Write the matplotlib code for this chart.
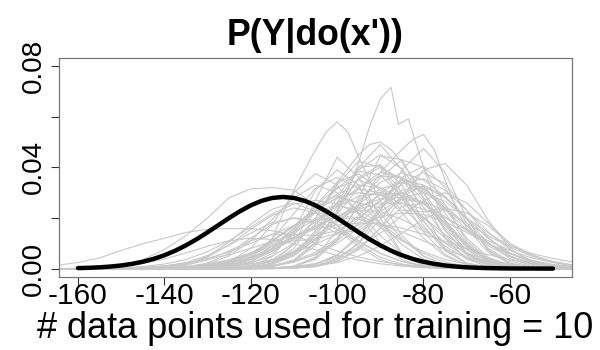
import numpy as np
import matplotlib
matplotlib.use("Agg")
import matplotlib.pyplot as plt

plt.rcParams['font.family'] = ['Liberation Sans', 'DejaVu Sans']

# x grid shared by the bootstrap density curves
grid_x = [-165, -160, -155, -150, -145, -140, -135, -130, -125, -120, -115, -110, -105,
          -100, -95, -90, -85, -80, -75, -70, -65, -60, -55, -50, -45]

# estimated densities (x 1000)
grey_curves = [
    [0, 0, 0, 0, 0, 0, 0, 0, 0.1, 0.4, 1.8, 5.4, 13, 24.3, 35.3, 40, 35.3, 24.3, 13, 5.4, 1.8, 0.4, 0.1, 0, 0],
    [0, 0, 0, 0, 0, 0, 0, 0, 0, 0, 0.2, 0.9, 3.7, 11, 26, 36, 43, 40, 25, 11, 3.7, 0.9, 0.2, 0, 0],
    [0, 0, 0, 0, 0, 0, 0.1, 0.5, 1.5, 4, 8.8, 16, 24.7, 32, 35, 32, 24.7, 16, 8.8, 4, 1.5, 0.5, 0.1, 0, 0],
    [0, 0, 0, 0, 0, 0, 0, 0.3, 1.2, 3.5, 8, 15, 23, 28, 26, 24, 30, 32, 24, 12, 4.5, 1.2, 0.3, 0, 0],
    [0, 0, 0.1, 0.3, 0.8, 1.8, 3.6, 6.7, 11, 16.4, 21.6, 25.5, 27, 25.5, 21.6, 16.4, 11, 6.7, 3.6, 1.8, 0.8, 0.3, 0.1, 0, 0],
    [0, 0, 0, 0, 0, 0, 0, 0, 0, 0, 0.1, 0.4, 1.7, 5.1, 12.4, 23, 33.5, 38, 33.5, 23, 12.4, 5.1, 1.7, 0.4, 0.1],
    [0, 0, 0, 0, 0, 0.1, 0.4, 1.2, 3, 6, 11, 17, 23, 28, 30, 29, 26, 20, 12, 6, 2.5, 0.9, 0.3, 0.1, 0],
    [0, 0, 0, 0, 0, 0, 0, 0, 0, 0, 0.2, 1, 4.6, 15, 28, 44.5, 43, 28, 12, 3.7, 0.8, 0.1, 0, 0, 0],
    [0, 0, 0, 0.1, 0.4, 1, 2.2, 4, 6.6, 10, 13.5, 17, 19.3, 20, 19.5, 17.5, 14.5, 11, 7.5, 4.6, 2.5, 1.2, 0.5, 0.2, 0.1],
    [0, 0, 0, 0, 0, 0, 0, 0, 0.1, 0.3, 0.9, 2.5, 5.8, 11, 18, 25, 31, 32.5, 28, 20, 12, 6, 2.5, 0.9, 0.3],
    [0, 0, 0, 0, 0, 0, 0, 0, 0.1, 0.5, 2, 6, 15, 28, 40, 41, 30, 17, 7, 2.2, 0.5, 0.1, 0, 0, 0],
    [0, 0, 0, 0, 0.1, 0.6, 1.7, 4.5, 9.4, 15.5, 21, 24, 22, 17, 11, 6, 2.8, 1, 0.3, 0.1, 0, 0, 0, 0, 0],
    [0, 0, 0, 0, 0, 0, 0, 0, 0, 0.1, 0.3, 0.8, 2, 4.5, 8.5, 14, 21, 27, 30, 26, 18, 10, 5.5, 2.8, 1.3],
    [0, 0, 0, 0, 0, 0, 0.2, 0.8, 2.5, 6, 11, 17, 22, 21, 20, 27, 35, 33, 22, 10, 3.5, 1, 0.2, 0, 0],
    [0, 0, 0, 0, 0, 0, 0, 0, 0, 0.2, 0.8, 3, 9, 23, 40, 49, 39, 22, 8, 2.2, 0.4, 0.1, 0, 0, 0],
    [0, 0, 0, 0, 0.1, 0.3, 0.7, 1.6, 3.2, 5.6, 8.8, 12.5, 16.5, 20.5, 23.5, 25.8, 25.8, 23.5, 20, 15.5, 11, 7.2, 4.3, 2.4, 1.2],
    [0, 0, 0, 0, 0, 0, 0.1, 0.4, 1.6, 4.9, 11.7, 21.8, 31.8, 36, 31.8, 21.8, 11.7, 4.9, 1.6, 0.4, 0.1, 0, 0, 0, 0],
    [0, 0, 0, 0, 0, 0, 0, 0, 0, 0, 0.1, 0.5, 1.8, 5.5, 13, 24, 36, 40.5, 32, 18, 7.5, 2.3, 0.5, 0.1, 0],
    [0, 0.1, 0.4, 1.3, 3.5, 7.5, 13, 20, 28, 31.5, 32, 31, 25, 17, 9.5, 4.5, 1.8, 0.6, 0.2, 0, 0, 0, 0, 0, 0],
    [1.3, 2.4, 4.2, 7.2, 9.8, 12, 14.3, 15.5, 15.8, 15.8, 15, 13, 10, 7, 4.5, 2.8, 1.6, 0.8, 0.4, 0.2, 0.1, 0, 0, 0, 0],
    [0, 0, 0, 0, 0, 0, 0, 0, 0.2, 0.5, 1.2, 2.8, 5.5, 10, 16, 22.5, 28, 30, 26.5, 20, 14, 9, 6, 4, 2.5],
    [0, 0, 0, 0, 0, 0, 0, 0.1, 0.4, 1.1, 2.8, 6, 11.3, 18.2, 25.6, 31.5, 34, 31.5, 25, 17, 10, 5, 2.2, 0.9, 0.3],
    [0, 0, 0, 0, 0, 0, 0, 0.1, 0.6, 2.6, 7.8, 16, 24.5, 28.8, 26, 18, 9.5, 3.8, 1.1, 0.3, 0, 0, 0, 0, 0],
    [0, 0, 0, 0, 0, 0.1, 0.3, 0.9, 2.2, 4.5, 8, 12.3, 16.8, 20.8, 23, 22.5, 19.5, 15, 10.3, 6.3, 3.4, 1.6, 0.7, 0.2, 0.1],
    [0, 0, 0, 0, 0, 0, 0, 0.1, 0.4, 1.2, 3, 6.5, 12, 19.5, 27, 34, 37.8, 35, 28.5, 20, 12, 6.2, 2.7, 1, 0.3],
    [0, 0, 0, 0, 0, 0.1, 0.5, 1.8, 5, 11, 19.5, 28, 33, 30, 22, 13, 6, 2.2, 0.7, 0.2, 0, 0, 0, 0, 0],
    [0, 0, 0, 0, 0.1, 0.4, 1.3, 3.5, 7, 11, 13.5, 13.5, 13, 15, 20, 27, 30, 26, 17, 8.5, 3.2, 1, 0.3, 0.1, 0],
    [0, 0, 0, 0, 0, 0, 0, 0, 0.1, 0.5, 2, 6, 14, 26, 39, 45, 39.5, 28, 15, 6, 2, 0.5, 0.1, 0, 0],
    [0, 0, 0, 0, 0, 0, 0, 0, 0, 0, 0.1, 0.4, 1, 2.4, 5, 9, 14, 19.5, 23.8, 22, 17, 9.5, 5, 2.5, 1],
    [0, 0, 0.1, 0.2, 0.5, 1.1, 2.1, 3.6, 5.5, 8, 10.7, 13.3, 15.6, 17.2, 18, 17.6, 16, 13.6, 10.8, 8, 5.5, 3.5, 2, 1.1, 0.5],
    [0, 0, 0, 0, 0, 0, 0, 0, 0.1, 1, 4.8, 15, 31, 39, 33, 17, 6, 1.5, 0.2, 0, 0, 0, 0, 0, 0],
    [0, 0, 0, 0, 0, 0, 0, 0, 0, 0, 0, 0.2, 0.8, 3, 8, 16, 24.5, 26, 19, 9.5, 3.2, 0.8, 0.1, 0, 0],
    [0, 0, 0, 0, 0, 0, 0, 0.1, 0.5, 2, 6, 14, 25, 34, 37.5, 31, 23, 22.5, 24, 17, 8, 3, 0.9, 0.2, 0],
    [0, 0, 0, 0.1, 0.3, 0.9, 2.4, 5.2, 9.2, 14, 18.2, 20, 19, 15.5, 10.5, 6, 2.8, 1.1, 0.4, 0.1, 0, 0, 0, 0, 0],
    [0, 0, 0, 0, 0, 0, 0.1, 0.3, 0.9, 2.3, 5, 10, 17.5, 26, 31.5, 30, 22, 12, 5, 1.6, 0.4, 0.1, 0, 0, 0],
    [0, 0, 0, 0, 0, 0, 0, 0, 0, 0, 0, 0.2, 0.9, 3.5, 10, 23, 39, 47.5, 38, 20, 7, 1.8, 0.3, 0, 0],
    [0, 0, 0, 0, 0, 0, 0, 0, 0, 0.2, 2.3, 9.6, 27, 44, 36, 20, 6, 1, 0.1, 0, 0, 0, 0, 0, 0],
    [0, 0, 0, 0, 0.1, 0.2, 0.5, 1.1, 2.3, 4.4, 7.5, 11.5, 16, 20.8, 24.6, 27.5, 28, 26.5, 23, 18, 13, 8.5, 5, 2.7, 1.3],
    [0, 0, 0, 0, 0, 0, 0.1, 0.3, 1, 2.9, 6.9, 13.5, 22.3, 31.6, 38.5, 37, 28.5, 18.5, 10, 4.5, 1.6, 0.5, 0.1, 0, 0],
    [0, 0, 0, 0, 0, 0, 0.1, 0.5, 2, 5.5, 9.5, 11, 11.5, 14, 21, 30, 35, 30, 19, 9, 3.2, 0.9, 0.2, 0, 0],
    [0, 0.1, 0.3, 0.9, 2, 3.8, 6.2, 8.8, 11, 12, 11.5, 9.8, 7.5, 5.2, 3.3, 1.9, 1, 0.5, 0.2, 0.1, 0, 0, 0, 0, 0],
    [0, 0, 0, 0, 0, 0, 0, 0, 0, 0, 0, 0.2, 0.8, 2.8, 7.5, 16, 28, 39, 41.5, 33, 19, 8, 2.5, 0.6, 0.1],
    [0, 0, 0, 0, 0, 0, 0.1, 0.6, 2.6, 8, 17.5, 30, 37.5, 33, 21.5, 10, 3.5, 0.9, 0.2, 0, 0, 0, 0, 0, 0],
    [0, 0, 0, 0, 0, 0, 0.2, 0.6, 1.6, 3.6, 7, 12, 18.5, 25.5, 32, 36.5, 36, 31, 23.5, 15.5, 9, 4.6, 2, 0.8, 0.3],
    [0, 0, 0, 0, 0, 0, 0, 0, 0.2, 1, 3.4, 9.5, 20, 33, 42.5, 40, 28, 14.5, 5.5, 1.5, 0.3, 0, 0, 0, 0],
    [0, 0, 0, 0, 0, 0, 0, 0.1, 0.3, 1, 3, 7, 13, 19, 24, 29, 30, 26, 18, 9.5, 4, 1.3, 0.4, 0.1, 0],
    [0, 0, 0, 0, 0, 0, 0, 0, 0.1, 0.4, 1.2, 3, 6.5, 12, 19.5, 27, 33.5, 35.5, 31, 23, 14.5, 7.5, 3.2, 1.2, 0.4],
    [0, 0, 0, 0, 0, 0.1, 0.3, 1, 2.7, 6, 11, 17, 22.5, 25, 23, 18, 11.5, 6, 2.6, 0.9, 0.3, 0.1, 0, 0, 0],
    [0, 0, 0, 0, 0, 0, 0, 0, 0, 0.2, 0.9, 3.5, 10.5, 22.5, 36, 41, 33, 19, 7.5, 2, 0.4, 0, 0, 0, 0],
    [0, 0, 0, 0, 0, 0, 0.1, 0.3, 0.8, 1.8, 3.6, 6.2, 9.7, 13.5, 17.3, 20.4, 22, 21.4, 18.5, 14.3, 9.8, 5.9, 3.1, 1.4, 0.6],
    [0, 0, 0, 0, 0, 0.1, 0.6, 2.2, 6, 12, 17.5, 20, 18, 14, 15, 21, 27.5, 26, 18, 9, 3.5, 1, 0.2, 0, 0],
    [0, 0, 0, 0, 0, 0, 0, 0, 0, 0, 0, 0.3, 1.2, 4, 10, 19.5, 28.5, 33, 28.5, 19.5, 10, 4, 1.2, 0.3, 0.1],
    [0, 0, 0, 0, 0.1, 0.3, 0.8, 1.8, 3.5, 6.2, 10, 14.5, 19.5, 24.5, 28.5, 30, 29, 25.5, 20.5, 15, 10, 6, 3.3, 1.7, 0.8],
    [0, 0, 0, 0, 0.1, 0.4, 1.6, 4.8, 10.5, 17.5, 23.5, 26, 22.5, 15.5, 8.5, 3.5, 1.1, 0.3, 0.1, 0, 0, 0, 0, 0, 0],
    [0, 0, 0, 0, 0, 0, 0, 0, 0.1, 0.5, 1.7, 5, 11.5, 21.5, 32, 38, 36, 27, 16, 7.5, 2.8, 0.8, 0.2, 0, 0],
    [0, 0, 0, 0, 0, 0.1, 0.4, 1.1, 2.8, 5.9, 10.6, 16.8, 23.6, 29.5, 33, 32, 27.3, 20.4, 13.4, 7.7, 3.9, 1.7, 0.6, 0.2, 0.1],
]

# the few tall curves, read at finer spacing (x, density x 1000)
tall_x = [
    [-120, -115, -110, -105, -100, -97.5, -95, -92.5, -90, -87.5, -85.8, -83.5, -82, -80, -77.5, -75, -70, -65, -60, -55],
    [-125, -120, -115, -112.5, -110, -107.5, -105, -102.5, -100, -97.5, -95, -92.5, -90, -85, -80, -75, -70],
    [-110, -105, -100, -95, -90, -85, -82.5, -80, -77.5, -75, -72.5, -70, -65, -60, -55],
    [-120, -115, -110, -105, -100, -95, -92.5, -90, -87.5, -85, -80, -75, -70, -65, -60],
]
tall_y = [
    [0.3, 1, 3, 10, 22, 31, 42, 56, 67, 71.6, 57, 59.2, 51, 40, 28, 18, 6, 1.5, 0.3, 0],
    [1, 4, 12, 22, 31, 39, 47, 54, 58, 54, 44, 35, 27, 13, 5, 1.5, 0.3],
    [1, 4, 12, 25, 38, 47, 51, 53, 47, 35, 24, 16, 6.5, 2, 0.5],
    [0.5, 2, 8, 20, 34, 45, 49, 50, 47, 42, 30, 15, 6, 1.5, 0.3],
]

# true interventional density (black curve), x 1000
true_x = [-160, -157.5, -155, -152.5, -150, -147.5, -145, -142.5, -140, -137.5, -135, -132.5,
          -130, -127.5, -125, -122.5, -120, -117.5, -115, -112.5, -110, -107.5, -105, -102.5,
          -100, -97.5, -95, -92.5, -90, -87.5, -85, -82.5, -80, -77.5, -75, -72.5, -70, -67.5,
          -65, -62.5, -60, -57.5, -55, -52.5, -50]
true_y = [0.19, 0.31, 0.51, 0.81, 1.24, 1.86, 2.71, 3.83, 5.27, 7.06, 9.19, 11.63, 14.33, 17.16,
          20.0, 22.66, 24.97, 26.77, 27.91, 28.3, 27.91, 26.77, 24.97, 22.66, 20.0, 17.16, 14.33,
          11.63, 9.19, 7.06, 5.27, 3.83, 2.71, 1.86, 1.24, 0.81, 0.51, 0.31, 0.19, 0.11, 0.06,
          0.03, 0.02, 0.01, 0.0]

x_ticks = [-160, -140, -120, -100, -80, -60]
x_tick_labels = ['-160', '-140', '-120', '-100', '-80', '-60']
y_ticks = [0.0, 0.02, 0.04, 0.06, 0.08]
y_tick_labels = ['0.00', '', '0.04', '', '0.08']

title = "P(Y|do(x'))"
x_label = '# data points used for training = 10'


def main():
    fig = plt.figure(figsize=(6, 3.5), dpi=100)
    W, H = 600.0, 350.0
    left, right, top, bottom = 59, 572, 58, 276.7
    ax = fig.add_axes([left / W, 1 - bottom / H, (right - left) / W, (bottom - top) / H])

    gx = np.array(grid_x)
    for row in grey_curves:
        ax.plot(gx, np.array(row) / 1000, color='#c8c8c8', lw=0.8, zorder=2)
    for xs, ys in zip(tall_x, tall_y):
        ax.plot(xs, np.array(ys) / 1000, color='#c8c8c8', lw=0.8, zorder=2)

    ax.plot(true_x, np.array(true_y) / 1000, color='black', lw=3.2,
            solid_capstyle='round', zorder=3)

    ax.set_xlim(-164.4, -45.6)
    ax.set_ylim(-0.0032, 0.0832)
    ax.set_xticks(x_ticks)
    ax.set_xticklabels(x_tick_labels, fontsize=21.5)
    ax.set_yticks(y_ticks)
    ax.set_yticklabels(y_tick_labels, fontsize=20, rotation=90, va='center')
    ax.tick_params(axis='x', length=5.5, width=0.8, pad=-2, color='#333333')
    ax.tick_params(axis='y', length=5.5, width=0.8, pad=3, color='#333333')
    for s in ax.spines.values():
        s.set_color('#777777')
        s.set_linewidth(0.9)

    cx = (left + right) / 2 / W
    fig.text(cx, 1 - 45 / H, title, fontsize=25.7, fontweight='bold',
             ha='center', va='baseline')
    fig.text(cx, 12.5 / H, x_label, fontsize=26, ha='center', va='baseline')

    fig.savefig('out.png', dpi=100)


if __name__ == "__main__":
    main()
